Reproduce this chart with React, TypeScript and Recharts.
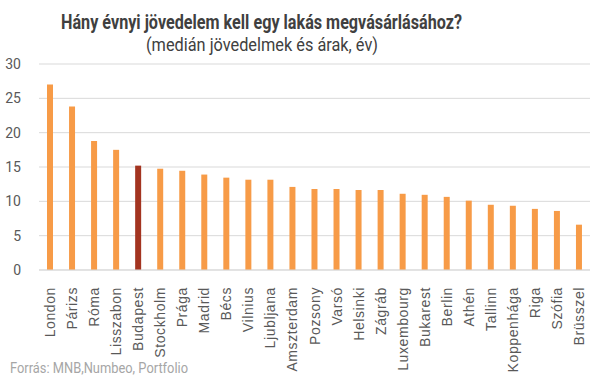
import React from 'react';
import { BarChart, Bar, XAxis, YAxis, CartesianGrid, Cell } from 'recharts';

const cities = ['London','Párizs','Róma','Lisszabon','Budapest','Stockholm','Prága','Madrid','Bécs','Vilnius','Ljubljana','Amszterdam','Pozsony','Varsó','Helsinki','Zágráb','Luxembourg','Bukarest','Berlin','Athén','Tallinn','Koppenhága','Riga','Szófia','Brüsszel'];
const years = [27.0,23.8,18.8,17.5,15.2,14.75,14.45,13.9,13.45,13.15,13.15,12.1,11.8,11.8,11.65,11.65,11.1,10.95,10.65,10.1,9.5,9.35,8.9,8.6,6.6];
const yTicks = [0,5,10,15,20,25,30];
const highlight = 'Budapest';
const title = 'Hány évnyi jövedelem kell egy lakás megvásárlásához?';
const subtitle = '(medián jövedelmek és árak, év)';
const source = 'Forrás: MNB,Numbeo, Portfolio';

const data = cities.map((c, i) => ({ city: c, value: years[i] }));

const XTick = (props: any) => {
  const { x, y, payload } = props;
  return (
    <text
      x={0}
      y={0}
      transform={`translate(${x + 5},${y + 9}) rotate(-90)`}
      textAnchor="end"
      fill="#595959"
      fontSize={14}
      fontFamily="'Liberation Sans', Arial, sans-serif"
      letterSpacing={0.6}
    >
      {payload.value}
    </text>
  );
};

export default function App() {
  return (
    <div style={{ position: 'absolute', left: 0, top: 0, width: 605, height: 379, background: '#fff' }}>
      <svg width={605} height={379} style={{ position: 'absolute', left: 0, top: 0 }}>
        <text x={61} y={29} fontSize={20} fontWeight="bold" fill="#404040" fontFamily="Roboto, sans-serif" textLength={401} lengthAdjust="spacingAndGlyphs">{title}</text>
        <text x={146} y={51} fontSize={19} fill="#404040" fontFamily="Roboto, sans-serif" textLength={232} lengthAdjust="spacingAndGlyphs">{subtitle}</text>
        <text x={10} y={373} fontSize={14} fill="#a6a6a6" fontFamily="Roboto, sans-serif" textLength={178} lengthAdjust="spacingAndGlyphs">{source}</text>
      </svg>
      <div style={{ position: 'absolute', left: 0, top: 0 }}>
        <BarChart width={605} height={379} data={data} margin={{ top: 64, right: 15, bottom: 29, left: 0 }}>
          <CartesianGrid vertical={false} stroke="#d9d9d9" strokeWidth={1} />
          <XAxis dataKey="city" interval={0} tick={<XTick />} tickLine={false} axisLine={{ stroke: '#d9d9d9' }} height={80} />
          <YAxis
            domain={[0, 30]}
            ticks={yTicks}
            width={39}
            axisLine={false}
            tickLine={false}
            tick={{ fill: '#595959', fontSize: 14, fontFamily: 'Roboto, sans-serif', dx: -10 }}
            interval={0}
          />
          <Bar dataKey="value" barSize={6} isAnimationActive={false}>
            {data.map((d) => (
              <Cell key={d.city} fill={d.city === highlight ? '#a33420' : '#f79b47'} />
            ))}
          </Bar>
        </BarChart>
      </div>
    </div>
  );
}
